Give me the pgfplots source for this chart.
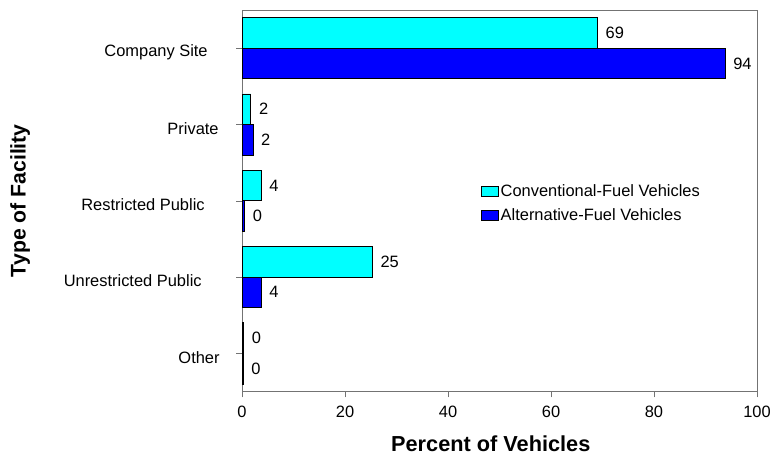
\documentclass[border=0pt]{standalone}
\usepackage{pgfplots}
\pgfplotsset{compat=1.18}
\usepackage{fontspec}
\setmainfont{Liberation Sans}
\definecolor{convc}{RGB}{0,255,255}
\definecolor{altc}{RGB}{0,0,255}
\begin{document}
\begin{tikzpicture}
\begin{axis}[
  at={(0,0)}, anchor=south west,
  scale only axis,
  width=517bp, height=383bp,
  xbar,
  bar width=0.4,
  xmin=0, xmax=100,
  ymin=-0.5, ymax=4.5,
  y dir=reverse,
  xtick={0,20,40,60,80,100},
  ytick={0,1,2,3,4},
  yticklabels={{Company Site\hspace*{12bp}},{Private\hspace*{1bp}},{Restricted Public\hspace*{15bp}},{Unrestricted Public\hspace*{18bp}},{Other}},
  font=\fontsize{16.5bp}{19bp}\selectfont,
  tick label style={font=\fontsize{16.5bp}{19bp}\selectfont},
  /pgf/number format/assume math mode=true,
  yticklabel style={anchor=east, xshift=-13bp, yshift=-4bp},
  xticklabel style={yshift=-5bp},
  tick align=outside,
  major tick length=6bp,
  xtick pos=bottom, ytick pos=left,
  axis line style={draw=gray!90!black},
  tick style={draw=gray!90!black},
  xlabel={\bfseries Percent of Vehicles},
  ylabel={\bfseries Type of Facility},
  xlabel style={font=\fontsize{21.8bp}{25bp}\selectfont, at={(axis description cs:0.483,-0.136)}, anchor=center},
  ylabel style={font=\fontsize{21.3bp}{25bp}\selectfont, at={(axis description cs:-0.431,0.5)}, anchor=center},
  point meta=explicit symbolic,
  nodes near coords,
  every node near coord/.append style={anchor=west, inner sep=3.5bp, xshift=4.5bp, font=\fontsize{16.5bp}{19bp}\selectfont, text=black},
  legend style={draw=none, fill=none, at={(axis description cs:0.464,0.548)}, anchor=north west,
    font=\fontsize{16.5bp}{19bp}\selectfont, row sep=7bp, inner sep=0pt},
  legend cell align=left,
  legend image code/.code={\draw[#1] (0bp,-5bp) rectangle (17bp,5bp);},
]
\addplot[fill=convc, draw=black, line width=0.6pt, bar shift=-0.2]
  coordinates {(69,0) [69] (1.7,1) [2] (3.7,2) [4] (25.3,3) [25] (0.3,4) [0]};
\addlegendentry{Conventional-Fuel Vehicles}
\addplot[fill=altc, draw=black, line width=0.6pt, bar shift=0.2]
  coordinates {(93.8,0) [94] (2.1,1) [2] (0.5,2) [0] (3.7,3) [4] (0.2,4) [0]};
\addlegendentry{Alternative-Fuel Vehicles}
\end{axis}
\useasboundingbox (-243bp,-66bp) rectangle (531bp,393bp);
\end{tikzpicture}
\end{document}
